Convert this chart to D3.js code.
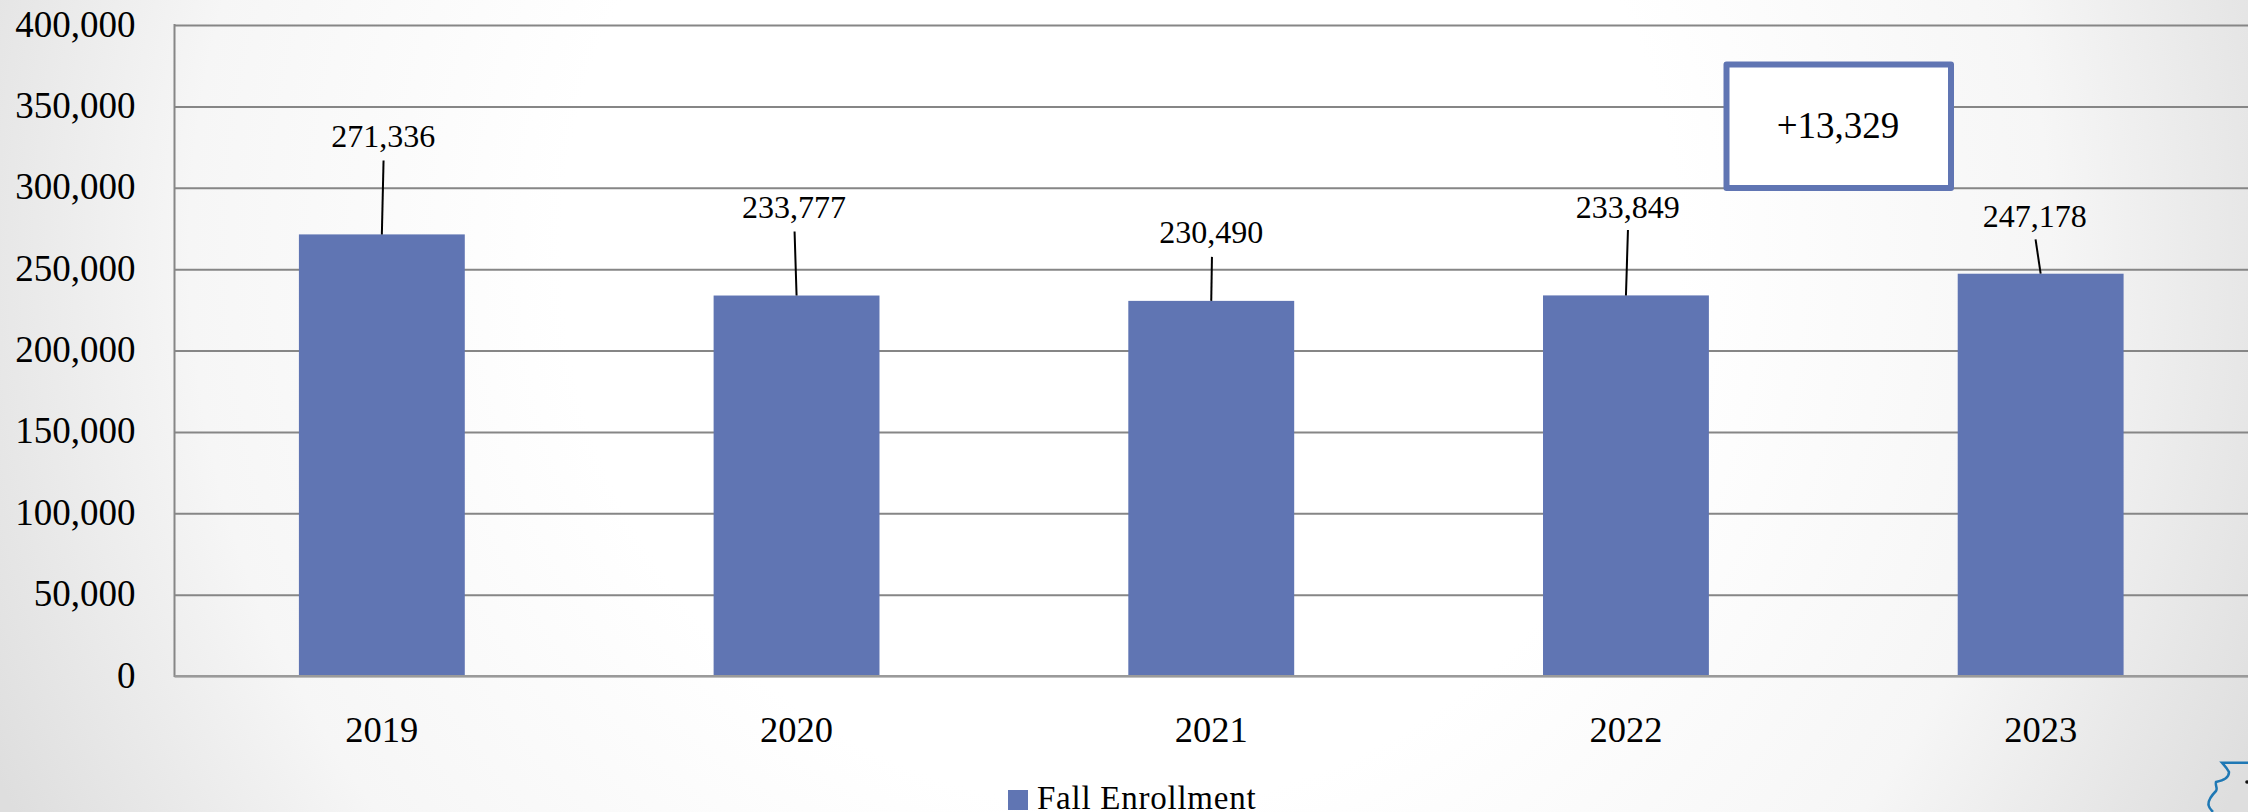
<!DOCTYPE html>
<html>
<head>
<meta charset="utf-8">
<script src="https://d3js.org/d3.v7.min.js"></script>
<style>
html,body{margin:0;padding:0;background:#fff}
svg{display:block}
text{font-family:"Liberation Serif",serif;fill:#000}
</style>
</head>
<body>
<svg id="chart" width="2248" height="812"></svg>
<script>
const years = ["2019","2020","2021","2022","2023"];
const fallEnrollment = [271336,233777,230490,233849,247178];
const yTicks = [0,50000,100000,150000,200000,250000,300000,350000,400000];
const seriesName = "Fall Enrollment";
const changeLabel = "+13,329";

const W = 2248, H = 812;
const plot = {left:174.5, right:2248, top:25, bottom:676};
const barColor = "#6075B3", gridColor = "#868686";
// label placement relative to each bar's centre and top: [dx, baseline above bar, leader dx, leader top above bar]
const labelPlacement = [[1.5,87,1.7,74],[-2.5,77.5,-2,64],[0,58,0.7,44],[1.7,77.4,2,65.5],[-5.8,47,-5.1,34.4]];

const svg = d3.select("#chart");
const defs = svg.append("defs");
const grad = defs.append("radialGradient").attr("id","bg")
  .attr("gradientUnits","userSpaceOnUse")
  .attr("cx",1120).attr("cy",250).attr("r",1240);
grad.append("stop").attr("offset","0").attr("stop-color","#ffffff");
grad.append("stop").attr("offset","0.45").attr("stop-color","#ffffff");
grad.append("stop").attr("offset","0.75").attr("stop-color","#f6f6f6");
grad.append("stop").attr("offset","1").attr("stop-color","#dedede");
svg.append("rect").attr("width",W).attr("height",H).attr("fill","url(#bg)");

const x = d3.scaleBand().domain(years).range([plot.left,plot.right]).paddingInner(0.6).paddingOuter(0.3);
const y = d3.scaleLinear().domain([0,400000]).range([plot.bottom,plot.top]);

// value axis with gridlines
const yAxis = d3.axisLeft(y).tickValues(yTicks).tickFormat(d3.format(",")).tickSize(-(plot.right-plot.left)).tickPadding(39);
const gy = svg.append("g").attr("transform",`translate(${plot.left},0)`).call(yAxis);
gy.select(".domain").remove();
gy.selectAll(".tick line").attr("stroke",gridColor).attr("stroke-width",2);
gy.selectAll(".tick text").attr("font-size",37).attr("dy","0.3em").attr("fill","#000")
  .style("font-family",'"Liberation Serif",serif');
svg.append("line").attr("x1",plot.left).attr("x2",plot.left).attr("y1",plot.top-1).attr("y2",plot.bottom+1)
  .attr("stroke",gridColor).attr("stroke-width",2);

// bars
svg.append("g").selectAll("rect").data(years).join("rect")
  .attr("x",d=>x(d)).attr("width",x.bandwidth())
  .attr("y",(d,i)=>y(fallEnrollment[i]))
  .attr("height",(d,i)=>y(0)-y(fallEnrollment[i]))
  .attr("fill",barColor);
svg.append("line").attr("x1",plot.left).attr("x2",plot.right).attr("y1",plot.bottom).attr("y2",plot.bottom)
  .attr("stroke","#9a9a9a").attr("stroke-width",2);

// category axis
const xAxis = d3.axisBottom(x).tickSize(0).tickPadding(0);
const gx = svg.append("g").attr("transform",`translate(0,${plot.bottom})`).call(xAxis);
gx.select(".domain").remove();
gx.selectAll(".tick text").attr("y",65.7).attr("dy",0).attr("font-size",36.5).attr("fill","#000")
  .style("font-family",'"Liberation Serif",serif');

// leader lines and data labels
const cx = d => x(d)+x.bandwidth()/2;
svg.append("g").selectAll("line").data(years).join("line")
  .attr("x1",d=>cx(d))
  .attr("y1",(d,i)=>y(fallEnrollment[i]))
  .attr("x2",(d,i)=>cx(d)+labelPlacement[i][2])
  .attr("y2",(d,i)=>y(fallEnrollment[i])-labelPlacement[i][3])
  .attr("stroke","#000").attr("stroke-width",2);
svg.append("g").selectAll("text").data(years).join("text")
  .attr("x",(d,i)=>cx(d)+labelPlacement[i][0])
  .attr("y",(d,i)=>y(fallEnrollment[i])-labelPlacement[i][1])
  .attr("text-anchor","middle").attr("font-size",32)
  .text((d,i)=>d3.format(",")(fallEnrollment[i]));

// callout
svg.append("rect").attr("x",1726.5).attr("y",64.5).attr("width",224.5).attr("height",123.5)
  .attr("fill","#fff").attr("stroke",barColor).attr("stroke-width",6).attr("stroke-linejoin","round");
svg.append("text").attr("x",1838).attr("y",138).attr("text-anchor","middle").attr("font-size",37).text(changeLabel);

// legend
svg.append("rect").attr("x",1008).attr("y",790).attr("width",20).attr("height",20).attr("fill",barColor);
svg.append("text").attr("x",1037).attr("y",808.5).attr("font-size",33).attr("letter-spacing",0.75).text(seriesName);

// corner logo fragment
svg.append("path")
  .attr("d","M2248,762.7L2222,762.7C2225,766 2227,768 2229,772C2229,778 2224,780 2216,782C2215,786 2218,788 2216,791C2211,796 2208,800 2208.5,805C2209,808 2211,810 2213,812")
  .attr("fill","none").attr("stroke","#1f78b4").attr("stroke-width",2.5);
svg.append("circle").attr("cx",2247).attr("cy",782).attr("r",1.8).attr("fill","#111");
</script>
</body>
</html>
